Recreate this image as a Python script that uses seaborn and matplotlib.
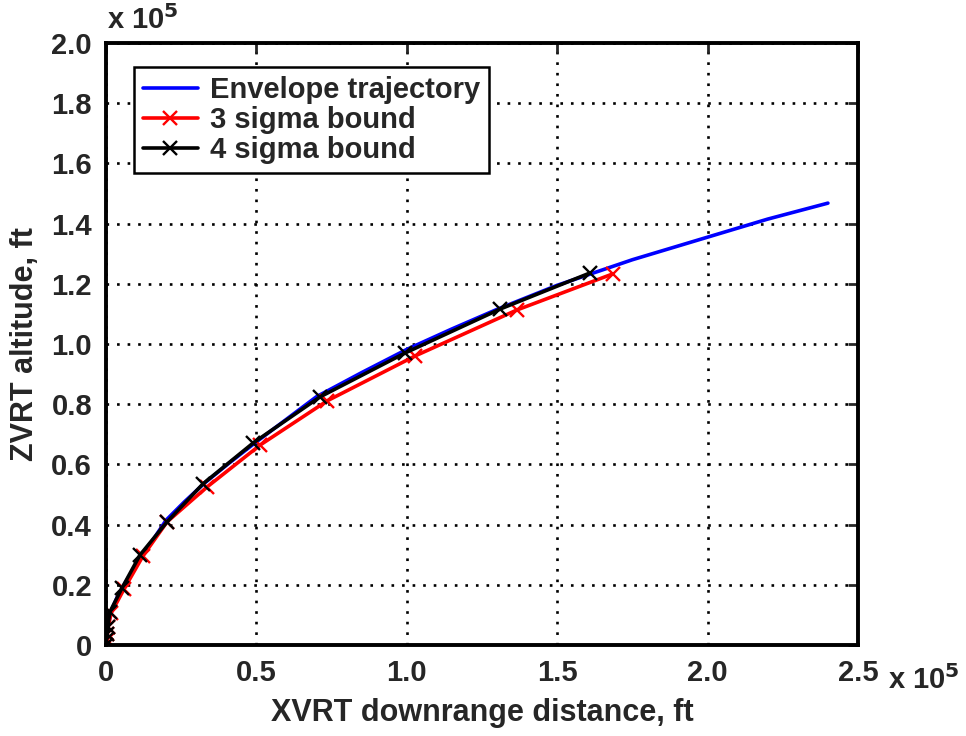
import matplotlib
matplotlib.use("Agg")
import matplotlib.pyplot as plt
import seaborn as sns
import pandas as pd

# values in units of 1e5 ft
env_x = [0.0, 0.003, 0.01, 0.02, 0.04, 0.06, 0.09, 0.12, 0.16, 0.20, 0.26, 0.33, 0.41, 0.50, 0.60,
         0.70, 0.85, 1.00, 1.15, 1.30, 1.50, 1.75, 2.00, 2.20, 2.40]
env_y = [0.0, 0.04, 0.08, 0.12, 0.165, 0.20, 0.25, 0.30, 0.355, 0.415, 0.475, 0.54, 0.605, 0.675, 0.75,
         0.825, 0.905, 0.982, 1.05, 1.115, 1.195, 1.28, 1.355, 1.415, 1.468]

s3_x = [0.0, 0.002, 0.004, 0.007, 0.017, 0.06, 0.123, 0.203, 0.336, 0.512, 0.735, 1.027, 1.366, 1.685]
s3_y = [0.0, 0.015, 0.035, 0.06, 0.106, 0.186, 0.296, 0.409, 0.525, 0.664, 0.811, 0.960, 1.113, 1.233]

s4_x = [0.0, 0.001, 0.003, 0.006, 0.013, 0.053, 0.113, 0.203, 0.322, 0.489, 0.711, 0.994, 1.310, 1.609]
s4_y = [0.0, 0.015, 0.035, 0.06, 0.11, 0.189, 0.299, 0.409, 0.535, 0.671, 0.824, 0.970, 1.116, 1.236]

x_ticks = [0, 0.5, 1.0, 1.5, 2.0, 2.5]
x_tick_labels = ["0", "0.5", "1.0", "1.5", "2.0", "2.5"]
y_ticks = [0, 0.2, 0.4, 0.6, 0.8, 1.0, 1.2, 1.4, 1.6, 1.8, 2.0]
y_tick_labels = ["0", "0.2", "0.4", "0.6", "0.8", "1.0", "1.2", "1.4", "1.6", "1.8", "2.0"]

sns.set_style("white")
plt.rcParams["font.family"] = ["Liberation Sans", "DejaVu Sans"]
plt.rcParams["font.weight"] = "bold"

fig = plt.figure(figsize=(9.66, 7.36), dpi=100)
ax = fig.add_axes([106/966, 1-645/736, 752/966, 602/736])

df_env = pd.DataFrame({"x": env_x, "y": env_y})
df_s3 = pd.DataFrame({"x": s3_x, "y": s3_y})
df_s4 = pd.DataFrame({"x": s4_x, "y": s4_y})

sns.lineplot(data=df_env, x="x", y="y", sort=False, estimator=None, ax=ax,
             color="#0000ff", lw=2.6, label="Envelope trajectory")
sns.lineplot(data=df_s3, x="x", y="y", sort=False, estimator=None, ax=ax,
             color="#ff0000", lw=2.6, marker="x", markersize=10, markeredgewidth=1.7,
             markeredgecolor="#ff0000", label="3 sigma bound")
sns.lineplot(data=df_s4, x="x", y="y", sort=False, estimator=None, ax=ax,
             color="black", lw=2.6, marker="x", markersize=10, markeredgewidth=1.7,
             markeredgecolor="black", label="4 sigma bound")

ax.set_xlim(0, 2.5)
ax.set_ylim(0, 2.0)
ax.set_xticks(x_ticks)
ax.set_xticklabels(x_tick_labels)
ax.set_yticks(y_ticks)
ax.set_yticklabels(y_tick_labels)
ax.grid(True, color="black", linestyle=(0, (1, 3)), linewidth=1.9)
ax.tick_params(direction="in", top=True, right=True, length=7, width=2,
               labelsize=21, pad=10)
for lab in ax.get_xticklabels() + ax.get_yticklabels():
    lab.set_fontweight("bold")
for sp in ax.spines.values():
    sp.set_visible(True)
    sp.set_color("black")
    sp.set_linewidth(2.8)

ax.set_xlabel("XVRT downrange distance, ft", fontsize=22, fontweight="bold", labelpad=8)
ax.set_ylabel("ZVRT altitude, ft", fontsize=22, fontweight="bold", labelpad=8)

fig.text(107/966, 1-20/736, "x 10$^{5}$", fontsize=21, fontweight="bold", ha="left", va="center")
fig.text(888/966, 1-680/736, "x 10$^{5}$", fontsize=21, fontweight="bold", ha="left", va="center")

leg = ax.legend(loc="upper left", bbox_to_anchor=(0.037, 0.96), fontsize=21,
                frameon=True, fancybox=False, edgecolor="black", framealpha=1,
                handlelength=1.9, labelspacing=0.08, borderpad=0.3, handletextpad=0.4,
                borderaxespad=0)
leg.get_frame().set_linewidth(1.8)
for t in leg.get_texts():
    t.set_fontweight("bold")

fig.savefig("out.png", dpi=100)
